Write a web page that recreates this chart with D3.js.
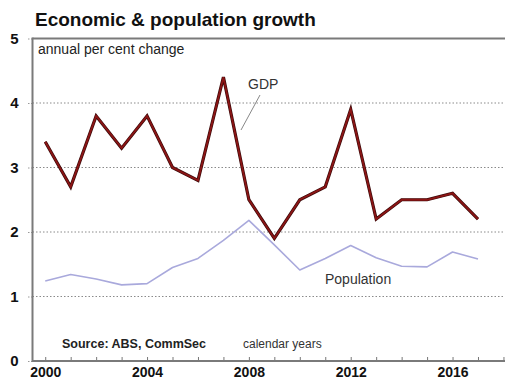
<!DOCTYPE html>
<html>
<head>
<meta charset="utf-8">
<script src="https://cdn.jsdelivr.net/npm/d3@7/dist/d3.min.js"></script>
<style>
  html, body { margin: 0; padding: 0; background: #fff; }
  svg { display: block; font-family: "Liberation Sans", Arial, sans-serif; }
</style>
</head>
<body>
<svg id="chart" width="505" height="380"></svg>
<script>
// Calendar years and annual per cent change
const years = [2000, 2001, 2002, 2003, 2004, 2005, 2006, 2007, 2008,
               2009, 2010, 2011, 2012, 2013, 2014, 2015, 2016, 2017];
const gdp = [3.4, 2.7, 3.8, 3.3, 3.8, 3.0, 2.8, 4.4, 2.5,
             1.9, 2.5, 2.7, 3.9, 2.2, 2.5, 2.5, 2.6, 2.2];
const population = [1.24, 1.34, 1.27, 1.18, 1.20, 1.45, 1.59, 1.87, 2.18,
                    1.80, 1.41, 1.59, 1.79, 1.60, 1.47, 1.46, 1.69, 1.58];
const yTicks = [0, 1, 2, 3, 4, 5];
const xTickYears = d3.range(2000, 2019);
const xLabelYears = [2000, 2004, 2008, 2012, 2016];

const svg = d3.select("#chart");

const plotLeft = 32.5, plotRight = 506, plotTop = 38.5, plotBottom = 361;
const x = d3.scaleLinear().domain([1999.5, 2018.1]).range([plotLeft, plotRight]);
const y = d3.scaleLinear().domain([0, 5]).range([plotBottom, plotTop]);

// Title
svg.append("text")
  .attr("x", 35).attr("y", 26)
  .attr("font-size", 19).attr("font-weight", "bold").attr("fill", "#111")
  .text("Economic & population growth");

// Dotted horizontal gridlines
svg.append("g").selectAll("line")
  .data(yTicks.filter(d => d > 0 && d < 5))
  .join("line")
  .attr("x1", plotLeft).attr("x2", plotRight)
  .attr("y1", d => y(d)).attr("y2", d => y(d))
  .attr("stroke", "#8a8a8a").attr("stroke-width", 1)
  .attr("stroke-dasharray", "1.5,2");

// Left axis with bold labels and short outside ticks
const yAxis = d3.axisLeft(y).tickValues(yTicks).tickSize(5).tickPadding(9)
  .tickFormat(d3.format("d"));
const gy = svg.append("g").attr("transform", `translate(${plotLeft},0)`).call(yAxis);
gy.select(".domain").remove();
gy.selectAll(".tick line").attr("stroke", "#999").attr("stroke-dasharray", "1.5,1.5");
gy.selectAll(".tick text")
  .attr("font-size", 15).attr("font-weight", "bold").attr("fill", "#111")
  .attr("font-family", "Liberation Sans, Arial, sans-serif");

// Bottom axis: a tick each year, labels every four years
const xAxis = d3.axisBottom(x).tickValues(xTickYears).tickSize(-4).tickPadding(6)
  .tickFormat(d => xLabelYears.includes(d) ? d : "");
const gx = svg.append("g").attr("transform", `translate(0,${plotBottom})`).call(xAxis);
gx.select(".domain").remove();
gx.selectAll(".tick line").attr("stroke", "#777").attr("stroke-width", 1);
gx.selectAll(".tick text")
  .attr("font-size", 14).attr("font-weight", "bold").attr("fill", "#111")
  .attr("font-family", "Liberation Sans, Arial, sans-serif");

// Frame: top, left and bottom edges
const frame = svg.append("g").attr("stroke", "#7a7a7a").attr("stroke-width", 2).attr("fill", "none");
frame.append("line").attr("x1", plotLeft).attr("x2", 505).attr("y1", plotTop).attr("y2", plotTop);
frame.append("line").attr("x1", plotLeft).attr("x2", plotLeft).attr("y1", plotTop - 1).attr("y2", plotBottom + 1);
frame.append("line").attr("x1", plotLeft).attr("x2", 505).attr("y1", plotBottom).attr("y2", plotBottom);

// Axis caption and notes
svg.append("text").attr("x", 38).attr("y", 54)
  .attr("font-size", 14).attr("fill", "#222").text("annual per cent change");
svg.append("text").attr("x", 62).attr("y", 348)
  .attr("font-size", 12.5).attr("font-weight", "bold").attr("fill", "#222").text("Source: ABS, CommSec");
svg.append("text").attr("x", 243).attr("y", 348)
  .attr("font-size", 12).attr("fill", "#333").text("calendar years");

// Series lines
const line = (vals) => d3.line().x((d, i) => x(years[i])).y(d => y(d))(vals);

svg.append("path").attr("d", line(population))
  .attr("fill", "none").attr("stroke", "#a9a9dc").attr("stroke-width", 1.6)
  .attr("stroke-linejoin", "round");

svg.append("path").attr("d", line(gdp))
  .attr("fill", "none").attr("stroke", "#3a0a0a").attr("stroke-width", 3.2)
  .attr("stroke-linejoin", "miter");
svg.append("path").attr("d", line(gdp))
  .attr("fill", "none").attr("stroke", "#8c1515").attr("stroke-width", 1.8)
  .attr("stroke-linejoin", "miter");

// Series labels
svg.append("text").attr("x", 248).attr("y", 89)
  .attr("font-size", 14).attr("fill", "#333").text("GDP");
svg.append("line").attr("x1", 260).attr("y1", 95).attr("x2", 241).attr("y2", 130)
  .attr("stroke", "#888").attr("stroke-width", 1);
svg.append("text").attr("x", 325).attr("y", 284)
  .attr("font-size", 14).attr("fill", "#333").text("Population");
</script>
</body>
</html>
